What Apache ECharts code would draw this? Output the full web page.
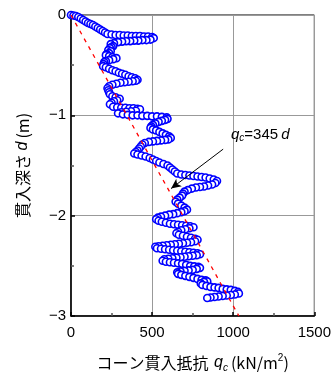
<!DOCTYPE html>
<html><head><meta charset="utf-8">
<script src="https://cdn.jsdelivr.net/npm/echarts@6/dist/echarts.min.js"></script>
<style>html,body{margin:0;padding:0;background:#fff}#c{width:334px;height:378px}</style>
</head><body><div id="c"></div>
<script>
// cone resistance qc (kN/m2) and penetration depth d (m) in path order
var qc = [0,15,30,45,60,75,90,105,120,135,150,165,180,195,210,225,
250,275,300,325,350,375,400,425,450,475,500,510,490,465,440,415,390,365,340,315,290,265,245,
260,250,240,230,245,235,220,215,235,255,280,260,235,215,205,200,198,
215,235,255,275,295,315,335,355,375,395,410,400,380,355,330,305,280,255,235,225,
230,235,240,255,275,300,285,265,250,240,
260,285,310,335,360,385,410,425,400,370,340,310,290,320,350,380,410,440,470,500,530,560,590,595,
580,560,540,520,505,495,490,505,525,545,565,585,605,615,600,580,555,530,505,480,455,440,
430,420,410,400,390,410,435,460,485,505,525,545,570,595,610,625,640,655,680,705,730,755,780,805,830,855,880,900,890,870,845,820,795,770,745,720,700,690,685,
670,655,645,660,680,700,715,700,680,655,630,605,580,555,535,525,540,560,585,610,635,660,685,710,735,755,730,705,680,660,650,665,690,715,740,765,780,765,
740,715,690,665,640,615,590,565,540,520,530,555,580,605,630,655,680,705,730,755,780,795,
775,750,725,700,675,650,625,600,575,565,585,610,635,660,685,710,735,760,785,795,
775,750,725,700,675,655,660,680,705,730,755,780,805,830,840,
820,800,810,835,860,885,910,935,960,985,1010,1030,1035,1010,985,960,935,910,885,860,840];
var depth = [0,0.005,0.01,0.02,0.035,0.05,0.065,0.08,0.09,0.1,0.115,0.13,0.145,0.16,0.175,0.19,
0.195,0.2,0.2,0.205,0.205,0.21,0.21,0.21,0.215,0.215,0.22,0.23,0.245,0.25,0.25,0.255,0.255,0.26,0.26,0.265,0.27,0.28,0.29,
0.31,0.32,0.33,0.35,0.36,0.38,0.39,0.40,0.41,0.42,0.43,0.44,0.45,0.46,0.47,0.49,0.51,
0.52,0.535,0.55,0.56,0.575,0.585,0.595,0.61,0.62,0.63,0.645,0.655,0.66,0.665,0.67,0.675,0.685,0.695,0.71,0.73,
0.75,0.77,0.79,0.81,0.82,0.835,0.85,0.86,0.875,0.89,
0.915,0.92,0.925,0.925,0.93,0.93,0.935,0.94,0.955,0.96,0.965,0.97,0.98,0.99,0.995,1.0,1.0,1.005,1.005,1.01,1.01,1.015,1.02,1.035,
1.045,1.055,1.065,1.08,1.095,1.11,1.125,1.14,1.15,1.165,1.18,1.195,1.21,1.225,1.24,1.245,1.25,1.255,1.26,1.265,1.275,1.29,
1.31,1.33,1.35,1.365,1.38,1.39,1.40,1.41,1.425,1.44,1.455,1.47,1.485,1.50,1.52,1.54,1.56,1.58,1.59,1.595,1.6,1.605,1.61,1.615,1.62,1.63,1.64,1.655,1.675,1.69,1.70,1.71,1.715,1.72,1.73,1.745,1.76,1.78,1.80,
1.82,1.84,1.86,1.88,1.90,1.92,1.94,1.955,1.965,1.975,1.985,1.99,2.0,2.01,2.02,2.035,2.05,2.06,2.07,2.08,2.085,2.09,2.095,2.10,2.105,2.115,2.125,2.135,2.145,2.16,2.175,2.19,2.20,2.21,2.22,2.23,2.24,2.255,
2.265,2.27,2.275,2.28,2.285,2.29,2.295,2.30,2.305,2.31,2.325,2.33,2.335,2.34,2.345,2.35,2.355,2.36,2.365,2.37,2.375,2.385,
2.395,2.40,2.405,2.41,2.415,2.42,2.425,2.43,2.435,2.45,2.46,2.465,2.47,2.475,2.48,2.49,2.50,2.505,2.51,2.52,
2.53,2.54,2.545,2.55,2.555,2.565,2.58,2.59,2.60,2.61,2.62,2.63,2.64,2.645,2.655,
2.66,2.675,2.69,2.70,2.71,2.715,2.72,2.73,2.735,2.74,2.75,2.76,2.775,2.785,2.79,2.795,2.80,2.805,2.81,2.815,2.82];
// fitted line qc = 345 d
var lineQc = [0, 1035];
var lineD = [0, 3];
// arrow annotation endpoints (qc, d)
var arrowFrom = [938, 1.337];
var arrowTo = [617, 1.73];
var xTicks = [0, 500, 1000, 1500];
var yTicks = [0, 1, 2, 3];

var pts = qc.map(function (v, i) { return [v, depth[i]]; });
var linePts = lineQc.map(function (v, i) { return [v, lineD[i]]; });

var NUM = 'Liberation Sans, Arial, sans-serif';
var JP = 'Noto Sans CJK JP, sans-serif';
var chart = echarts.init(document.getElementById('c'), null, {renderer: 'canvas'});
chart.setOption({
  animation: false,
  backgroundColor: '#fff',
  grid: {left: 71, top: 15, right: 19, bottom: 58, show: true, borderColor: '#000', borderWidth: 1, backgroundColor: 'transparent'},
  xAxis: {
    type: 'value', min: xTicks[0], max: xTicks[xTicks.length - 1], interval: 500,
    axisLine: {show: true, onZero: false, lineStyle: {color: '#000', width: 1.5}},
    axisTick: {show: true, inside: true, length: 4, lineStyle: {color: '#000', width: 1.5}},
    minorTick: {show: true, splitNumber: 2, length: 3, lineStyle: {color: '#555', width: 1.5}},
    splitLine: {show: true, lineStyle: {color: '#999', width: 1}},
    axisLabel: {color: '#000', fontSize: 15, fontFamily: NUM, margin: 9,
      formatter: function (v) { return String(v); }},
    name: '{n|コーン貫入抵抗 }{i|q}{s|c}{n|(kN/m}{p|2}{n|)}',
    nameLocation: 'middle', nameGap: 37,
    nameTextStyle: {
      rich: {
        n: {fontSize: 16, fontFamily: JP, color: '#000', lineHeight: 20, verticalAlign: 'middle'},
        i: {fontSize: 16, fontFamily: NUM, fontStyle: 'italic', color: '#000', lineHeight: 20, verticalAlign: 'middle', padding: [0, 0, 0, 2]},
        s: {fontSize: 10, fontFamily: NUM, fontStyle: 'italic', color: '#000', verticalAlign: 'bottom', lineHeight: 10, padding: [0, 3, 0, 0]},
        p: {fontSize: 10, fontFamily: NUM, color: '#000', verticalAlign: 'top', lineHeight: 10}
      }
    }
  },
  yAxis: {
    type: 'value', min: yTicks[0], max: yTicks[yTicks.length - 1], interval: 1, inverse: true,
    axisLine: {show: true, onZero: false, lineStyle: {color: '#000', width: 1.5}},
    axisTick: {show: true, inside: true, length: 4, lineStyle: {color: '#000', width: 1.5}},
    minorTick: {show: true, splitNumber: 2, length: 3, lineStyle: {color: '#555', width: 1.5}},
    splitLine: {show: true, lineStyle: {color: '#999', width: 1}},
    axisLabel: {color: '#000', fontSize: 15, fontFamily: NUM, margin: 5,
      formatter: function (v) { return v === 0 ? '0' : '\u2212' + v; }},
    name: '{n|貫入深さ }{i|d}{n|(m)}',
    nameLocation: 'middle', nameGap: 38,
    nameTextStyle: {
      rich: {
        n: {fontSize: 16, fontFamily: JP, color: '#000', lineHeight: 20},
        i: {fontSize: 16, fontFamily: NUM, fontStyle: 'italic', color: '#000', lineHeight: 20, padding: [0, 3, 0, 0]}
      }
    }
  },
  series: [
    {
      type: 'scatter', data: pts, symbol: 'circle', symbolSize: 7,
      itemStyle: {color: '#fff', borderColor: '#0000ff', borderWidth: 1.6, opacity: 1},
      z: 2, silent: true
    },
    {
      type: 'line', data: linePts, symbol: 'none', z: 3, silent: true,
      lineStyle: {color: '#ff0000', width: 1.3, type: [4, 5]},
      markLine: {
        silent: true, symbol: ['none', 'arrow'], symbolSize: [7, 10],
        label: {show: false},
        lineStyle: {color: '#000', width: 1, type: 'solid'},
        data: [[{coord: arrowFrom}, {coord: arrowTo}]]
      }
    }
  ],
  graphic: [{
    type: 'text', left: 231, top: 127, z: 10,
    style: {
      text: '{i|q}{s|c}{n|=345}{d|d}',
      rich: {
        i: {fontSize: 15, fontFamily: NUM, fontStyle: 'italic', fill: '#000', lineHeight: 18, verticalAlign: 'middle'},
        s: {fontSize: 10, fontFamily: NUM, fontStyle: 'italic', fill: '#000', verticalAlign: 'bottom', lineHeight: 10},
        n: {fontSize: 15, fontFamily: NUM, fill: '#000', lineHeight: 18, verticalAlign: 'middle'},
        d: {fontSize: 15, fontFamily: NUM, fontStyle: 'italic', fill: '#000', lineHeight: 18, verticalAlign: 'middle', padding: [0, 0, 0, 3]}
      }
    }
  }]
});
</script></body></html>
